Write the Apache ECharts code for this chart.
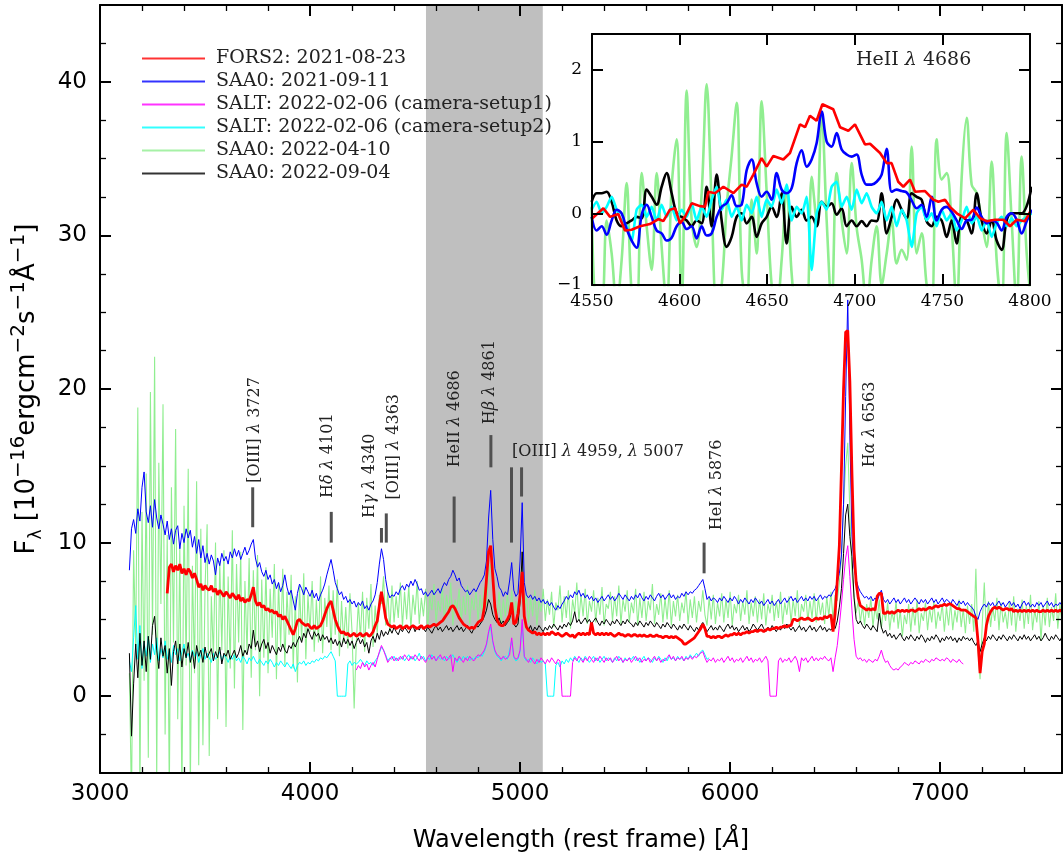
<!DOCTYPE html>
<html>
<head>
<meta charset="utf-8">
<title>Optical spectra, HeII 4686 window</title>
<script src="https://cdn.jsdelivr.net/npm/echarts@6/dist/echarts.min.js"></script>
<style>
  html, body { margin: 0; padding: 0; background: #fff; }
  #chart { width: 1063px; height: 855px; }
</style>
</head>
<body>
<div id="chart"></div>
<script>
// ---------------------------------------------------------------------------
// Spectra: flux in 1e-16 erg cm^-2 s^-1 A^-1 on a regular wavelength grid.
// ---------------------------------------------------------------------------
const GRID_STEP = 10;          // Angstrom per sample
const SAAO_START = 3140;       // first wavelength of the SAAO / SALT-2 spectra
const FORS2_START = 3320;      // first wavelength of the FORS2 spectrum
const SALT1_START = 4220;      // first wavelength of SALT camera-setup1

// FORS2: 2021-08-23
const fors2Flux = [
  6.7, 8.4, 8.6, 8.1, 8.5, 8.2, 8.6, 8.0, 8.3, 7.9,
  8.3, 8.1, 7.7, 8.0, 7.6, 7.1, 7.3, 6.9, 7.2, 7.0,
  6.9, 7.2, 6.8, 7.0, 6.6, 6.9, 6.7, 6.5, 6.8, 6.6,
  6.4, 6.7, 6.5, 6.3, 6.6, 6.2, 6.4, 6.1, 6.3, 6.2,
  6.6, 7.1, 6.2, 5.9, 6.1, 5.8, 5.9, 5.6, 5.7, 5.5,
  5.6, 5.4, 5.5, 5.2, 5.3, 5.0, 5.2, 4.9, 4.6, 4.3,
  4.0, 4.4, 4.9, 5.0, 4.8, 4.7, 4.6, 4.7, 4.5, 4.4,
  4.6, 4.4, 4.5, 4.6, 4.9, 5.3, 5.7, 6.0, 6.2, 5.6,
  5.0, 4.6, 4.3, 4.1, 4.2, 4.0, 4.1, 3.9, 4.0, 4.1,
  3.9, 4.0, 4.1, 3.9, 4.0, 4.1, 3.9, 4.0, 4.2, 4.6,
  4.9, 5.9, 6.8, 6.0, 5.1, 4.7, 4.6, 4.5, 4.6, 4.4,
  4.5, 4.6, 4.4, 4.5, 4.6, 4.4, 4.5, 4.6, 4.5, 4.4,
  4.5, 4.6, 4.4, 4.5, 4.6, 4.5, 4.6, 4.7, 4.6, 4.7,
  4.8, 4.9, 5.1, 5.3, 5.5, 5.8, 5.9, 5.7, 5.4, 5.1,
  4.9, 4.7, 4.6, 4.5, 4.4, 4.5, 4.4, 4.6, 4.8, 4.9,
  5.0, 5.8, 7.6, 9.4, 9.8, 7.8, 5.8, 5.0, 4.7, 4.6,
  4.6, 4.8, 5.0, 5.3, 6.1, 4.7, 4.8, 5.4, 6.6, 8.1,
  5.2, 4.5, 4.3, 4.2, 4.1, 4.2, 4.0, 4.1, 4.0, 4.1,
  4.0, 4.1, 4.0, 4.2, 4.1, 4.0, 4.1, 4.0, 3.9, 4.0,
  4.1, 4.0, 3.9, 4.0, 3.8, 4.0, 4.1, 4.0, 4.1, 4.0,
  4.1, 4.0, 4.8, 4.1, 4.0, 4.1, 4.0, 4.1, 4.0, 4.1,
  4.0, 4.1, 4.0, 3.9, 4.0, 4.1, 4.0, 4.0, 3.9, 4.0,
  4.0, 3.9, 4.0, 4.0, 3.9, 4.0, 3.9, 4.0, 3.9, 3.9,
  4.0, 3.9, 3.9, 4.0, 3.9, 3.9, 3.8, 3.9, 3.9, 3.8,
  3.9, 3.8, 3.9, 3.8, 3.7, 3.6, 3.4, 3.4, 3.5, 3.6,
  3.7, 3.8, 4.0, 4.2, 4.4, 4.7, 4.4, 3.9, 3.9, 3.8,
  3.9, 3.8, 3.9, 3.9, 3.8, 3.9, 4.0, 3.9, 4.0, 4.0,
  4.1, 4.0, 4.1, 4.0, 4.1, 4.1, 4.2, 4.1, 4.2, 4.2,
  4.3, 4.2, 4.3, 4.3, 4.2, 4.3, 4.4, 4.3, 4.4, 4.4,
  4.5, 4.4, 4.5, 4.5, 4.6, 4.5, 4.6, 4.6, 5.0, 5.0,
  4.9, 5.0, 5.1, 5.0, 5.0, 5.1, 5.0, 4.9, 5.0, 5.1,
  5.0, 5.1, 5.0, 5.2, 5.1, 5.2, 5.3, 4.2, 5.4, 7.5,
  9.8, 14.8, 20.0, 23.7, 23.8, 20.5, 14.5, 9.5, 7.4, 6.4,
  5.9, 5.8, 5.7, 5.6, 5.7, 5.6, 5.7, 5.6, 6.5, 6.7,
  6.7, 5.4, 5.4, 5.5, 5.4, 5.5, 5.4, 5.5, 5.6, 5.5,
  5.6, 5.5, 5.6, 5.5, 5.6, 5.6, 5.5, 5.6, 5.7, 5.6,
  5.7, 5.6, 5.7, 5.8, 5.7, 5.8, 5.9, 5.8, 5.9, 5.9,
  6.0, 5.9, 6.0, 6.0, 5.9, 5.8, 5.7, 5.7, 5.6, 5.6,
  5.6, 5.5, 5.4, 5.3, 5.2, 5.1, 3.6, 1.5, 2.9, 3.4,
  4.6, 5.2, 5.5, 5.7, 5.8, 5.7, 5.8, 5.7, 5.6, 5.7,
  5.7, 5.6, 5.7, 5.5, 5.6, 5.5, 5.6, 5.5, 5.6, 5.5,
  5.6, 5.5, 5.6, 5.5, 5.6, 5.5, 5.5, 5.6, 5.5, 5.6,
  5.5, 5.6, 5.5, 5.6, 5.5, 5.6, 5.5
];

// SAAO: 2021-09-11
const saao210911Flux = [
  8.2, 10.9, 11.5, 10.6, 12.2, 11.4, 13.6, 14.6, 12.0, 11.3,
  12.4, 11.0, 12.8, 11.6, 10.9, 11.8, 11.2, 10.5, 11.4, 10.2,
  10.9, 9.9, 10.8, 11.1, 9.6, 10.6, 10.0, 10.9, 10.3, 10.8,
  9.7, 10.4, 9.3, 10.2, 9.0, 9.8, 8.7, 9.3, 8.6, 9.2,
  8.8, 7.9, 9.0, 8.5, 9.3, 8.8, 9.1, 8.6, 9.4, 9.0,
  9.6, 9.1, 9.5, 8.9, 9.3, 9.7, 9.2, 9.5, 9.9, 10.2,
  9.0, 8.4, 8.7, 8.1, 7.8, 8.2, 7.6, 7.9, 7.3, 7.6,
  7.0, 7.4, 6.8, 7.2, 7.9, 7.1, 6.6, 6.9, 6.2, 5.6,
  6.7, 7.3, 7.0, 6.6, 7.1, 6.8, 6.5, 6.9, 6.4, 6.7,
  6.2, 6.6, 6.9, 7.3, 7.9, 8.4, 8.9, 8.2, 7.4, 7.0,
  6.6, 6.8, 6.3, 6.5, 6.1, 6.3, 6.0, 6.2, 5.8, 6.1,
  5.9, 6.2, 5.7, 5.9, 5.6, 6.0, 6.2, 6.6, 7.4, 8.6,
  9.6, 8.9, 7.6, 6.8, 6.4, 6.6, 6.5, 6.8, 6.6, 7.0,
  7.2, 6.9, 7.3, 7.1, 7.5, 7.2, 7.6, 7.3, 6.9, 7.0,
  6.6, 6.8, 6.5, 6.7, 6.9, 6.6, 6.8, 7.0, 6.7, 7.1,
  7.4, 7.2, 7.6, 7.8, 8.2, 7.9, 7.5, 7.7, 7.2, 7.0,
  6.8, 6.9, 6.6, 6.8, 7.0, 6.8, 7.1, 7.4, 7.6, 7.9,
  8.8, 11.6, 13.4, 10.2, 8.3, 7.8, 7.1, 6.9, 6.5, 6.8,
  6.6, 7.5, 8.7, 6.9, 6.5, 6.7, 8.8, 12.6, 7.4, 6.6,
  6.4, 6.6, 6.3, 6.5, 6.2, 6.4, 6.1, 6.3, 6.0, 6.2,
  5.9, 6.1, 5.8, 5.6, 5.9, 5.7, 6.0, 6.2, 6.5, 6.3,
  6.6, 6.4, 6.8, 6.6, 6.9, 6.5, 6.7, 6.4, 6.6, 6.3,
  6.5, 6.2, 6.4, 6.1, 6.3, 6.5, 6.2, 6.4, 6.6, 6.3,
  6.5, 6.2, 6.4, 6.7, 6.5, 6.3, 6.6, 6.4, 6.2, 6.5,
  6.3, 6.6, 6.4, 6.7, 6.4, 6.2, 6.5, 6.3, 6.6, 6.4,
  6.2, 6.5, 6.7, 6.4, 6.6, 6.3, 6.5, 6.7, 6.4, 6.6,
  6.3, 6.5, 6.4, 6.7, 6.5, 6.8, 6.6, 6.8, 6.7, 6.9,
  7.0, 7.2, 7.4, 7.6, 7.0, 6.3, 6.5, 6.2, 6.4, 6.3,
  6.1, 6.4, 6.2, 6.5, 6.3, 6.1, 6.4, 6.2, 6.5, 6.3,
  6.0, 6.3, 6.1, 6.4, 6.2, 6.0, 6.3, 6.1, 6.4, 6.2,
  6.0, 6.2, 5.9, 6.1, 6.3, 6.0, 6.2, 5.9, 6.1, 6.3,
  6.0, 6.2, 6.4, 6.1, 6.3, 6.5, 6.2, 6.4, 6.1, 6.3,
  6.5, 6.2, 6.4, 6.2, 6.5, 6.3, 6.5, 6.2, 6.4, 6.6,
  6.3, 6.5, 6.4, 6.6, 6.5, 6.8, 7.0, 7.4, 8.0, 9.2,
  12.5, 19.5, 25.8, 17.0, 10.5, 8.4, 7.6, 7.1, 6.8, 6.6,
  6.4, 6.5, 6.3, 6.5, 6.2, 6.4, 6.2, 6.6, 6.9, 6.3,
  6.1, 6.3, 6.0, 6.2, 6.4, 6.1, 6.3, 6.0, 6.2, 6.4,
  6.1, 6.3, 6.0, 6.2, 6.4, 6.2, 6.0, 6.3, 6.1, 6.3,
  6.0, 6.2, 6.4, 6.1, 6.3, 6.0, 6.2, 6.4, 6.1, 6.3,
  6.2, 6.0, 6.3, 6.1, 5.9, 6.2, 6.0, 6.2, 5.9, 6.1,
  5.9, 5.8, 5.6, 5.2, 5.0, 5.5, 5.8, 6.0, 5.8, 6.1,
  5.9, 6.1, 5.8, 6.0, 6.2, 5.9, 6.1, 5.8, 6.0, 6.2,
  5.9, 6.1, 5.8, 6.0, 5.7, 6.0, 6.2, 5.9, 6.1, 5.8,
  6.0, 5.8, 6.1, 5.9, 6.1, 5.8, 6.0, 6.2, 5.9, 6.1,
  5.8, 6.0, 5.9, 6.1, 5.9
];

// SALT: 2022-02-06 (camera-setup1)
const saltSetup1Flux = [
  1.7, 2.0, 1.8, 2.2, 1.9, 2.1, 1.7, 2.0, 2.2, 1.9,
  2.4, 2.9, 3.3, 3.0, 2.6, 2.2, 2.4, 2.6, 2.3, 2.5,
  2.3, 2.6, 2.4, 2.7, 2.5, 2.3, 2.6, 2.4, 2.7, 2.5,
  2.3, 2.6, 2.4, 2.2, 2.5, 2.7, 2.4, 2.6, 2.3, 2.5,
  2.7, 2.4, 2.6, 2.3, 2.5, 2.7, 1.6, 2.5, 2.3, 2.6,
  2.4, 2.2, 2.5, 2.3, 2.6, 2.4, 2.3, 2.5, 2.7, 2.6,
  2.8, 3.0, 3.4, 4.2, 4.7, 3.6, 3.0, 2.7, 2.6, 2.4,
  2.6, 2.4, 2.5, 2.7, 3.8, 2.6, 2.4, 2.5, 3.0, 5.0,
  2.6, 2.4, 2.2, 2.5, 2.3, 2.1, 2.4, 2.2, 2.5, 2.3,
  2.1, 2.4, 2.2, 2.5, 2.3, 2.1, 2.4, 2.3, 0, 0,
  0, 0, 0, 2.2, 2.5, 2.3, 2.6, 2.4, 2.2, 2.5,
  2.3, 2.6, 2.4, 2.2, 2.5, 2.3, 2.6, 2.4, 2.2, 2.5,
  2.3, 2.5, 2.2, 2.4, 2.6, 2.3, 2.5, 2.2, 2.4, 2.3,
  2.5, 2.2, 2.4, 2.6, 2.3, 2.5, 2.2, 2.4, 2.3, 2.5,
  2.2, 2.4, 2.6, 2.3, 2.5, 2.2, 2.4, 2.3, 2.5, 2.7,
  2.4, 2.6, 2.3, 2.5, 2.4, 2.6, 2.3, 2.5, 2.4, 2.6,
  2.4, 2.6, 2.5, 2.7, 2.8, 2.9, 2.5, 2.2, 2.4, 2.3,
  2.5, 2.2, 2.4, 2.3, 2.5, 2.2, 2.4, 2.6, 2.3, 2.5,
  2.2, 2.4, 2.3, 2.5, 2.2, 2.4, 2.6, 2.3, 2.5, 2.2,
  2.4, 2.3, 2.5, 2.2, 2.4, 2.6, 2.3, 0, 0, 0,
  0, 2.3, 2.5, 2.2, 2.4, 2.3, 2.5, 2.2, 2.4, 2.6,
  2.3, 1.6, 2.5, 2.3, 2.5, 2.2, 2.4, 2.6, 2.3, 2.5,
  2.3, 2.5, 2.4, 2.6, 2.4, 2.3, 2.5, 1.6, 2.5, 3.3,
  4.6, 6.0, 7.6, 9.0, 9.8, 7.8, 5.6, 3.7, 2.6, 2.4,
  2.5, 2.3, 2.4, 2.2, 2.4, 2.3, 2.2, 2.4, 2.3, 2.6,
  3.0, 2.5, 2.2, 2.3, 2.0, 1.8, 1.7, 1.8, 1.7, 1.9,
  2.0, 2.2, 2.1, 2.0, 2.2, 2.1, 2.3, 2.2, 2.1, 2.3,
  2.2, 2.4, 2.3, 2.2, 2.4, 2.3, 2.5, 2.4, 2.3, 2.4,
  2.3, 2.5, 2.4, 2.2, 2.4, 2.3, 2.2, 2.4, 2.2, 2.1
];

// SALT: 2022-02-06 (camera-setup2)
const saltSetup2Flux = [
  2.3, 1.6, 3.8, 5.9, 2.4, 4.6, 1.8, 3.5, 2.6, 3.9,
  2.2, 3.4, 2.7, 3.8, 2.3, 3.1, 2.5, 3.6, 2.4, 3.0,
  2.2, 3.3, 2.7, 3.1, 2.3, 2.9, 3.4, 2.5, 2.8, 2.3,
  3.0, 2.6, 2.9, 2.2, 2.7, 3.1, 2.4, 2.8, 2.5, 2.2,
  2.8, 2.4, 2.6, 2.9, 2.3, 2.7, 2.5, 2.2, 2.6, 2.4,
  2.7, 2.3, 2.5, 2.2, 2.6, 2.4, 2.1, 2.5, 2.3, 2.6,
  2.3, 2.1, 2.4, 2.2, 2.0, 2.3, 2.1, 2.4, 2.2, 1.9,
  2.2, 2.0, 2.3, 2.1, 1.9, 2.2, 2.0, 1.8, 2.1, 1.6,
  2.0, 2.2, 2.1, 2.3, 2.0, 2.2, 2.1, 2.3, 2.2, 2.4,
  2.3, 2.5, 2.4, 2.6, 2.5, 2.7, 2.9, 2.6, 2.3, 0,
  0, 0, 0, 0, 2.1, 2.3, 2.0, 2.2, 2.1, 2.2,
  2.4, 2.2, 2.0, 2.3, 2.1, 2.2, 2.0, 2.3, 2.5, 2.8,
  3.2, 3.0, 2.7, 2.3, 2.5, 2.4, 2.6, 2.3, 2.5, 2.4,
  2.6, 2.3, 2.5, 2.7, 2.4, 2.6, 2.3, 2.5, 2.8, 2.4,
  2.6, 2.3, 2.5, 2.4, 2.7, 2.5, 2.3, 2.6, 2.4, 2.5,
  2.3, 2.6, 2.4, 2.5, 2.7, 2.4, 2.2, 2.5, 2.3, 2.6,
  2.4, 2.6, 2.3, 2.5, 2.4, 2.6, 2.5, 2.7, 2.6, 2.9,
  3.3, 4.1, 4.5, 3.5, 2.9, 2.6, 2.5, 2.3, 2.5, 2.6,
  2.4, 3.0, 3.6, 2.5, 2.3, 2.4, 2.9, 4.8, 2.5, 2.3,
  2.4, 2.2, 2.5, 2.3, 2.1, 2.4, 2.2, 2.3, 2.1, 0,
  0, 0, 0, 2.0, 2.2, 1.9, 2.3, 2.1, 2.4, 2.2,
  2.5, 2.3, 2.6, 2.4, 2.2, 2.5, 2.3, 2.6, 2.4, 2.2,
  2.4, 2.6, 2.3, 2.5, 2.2, 2.4, 2.6, 2.3, 2.5, 2.4,
  2.2, 2.5, 2.3, 2.6, 2.4, 2.2, 2.5, 2.3, 2.5, 2.4,
  2.6, 2.3, 2.5, 2.2, 2.4, 2.6, 2.3, 2.5, 2.4, 2.2,
  2.5, 2.3, 2.6, 2.4, 2.2, 2.5, 2.3, 2.6, 2.4, 2.5,
  2.3, 2.6, 2.4, 2.5, 2.3, 2.6, 2.4, 2.7, 2.5, 2.6,
  2.8, 2.6, 2.9, 3.0, 2.7, 2.4, 2.5
];

// SAAO: 2022-04-10
const saao220410Flux = [
  1.5, -7.0, 9.5, 3.2, 18.8, -6.5, 12.0, 1.0, 14.5, -4.0,
  19.8, 4.0, 22.1, -5.5, 15.2, 6.0, 19.0, -2.5, 10.5, -6.5,
  13.6, 3.5, 17.4, -1.5, 9.8, -6.8, 12.4, 2.0, 14.8, -6.2,
  8.5, 1.5, 14.0, -4.5, 10.9, -3.2, 7.0, 11.2, -3.9, 6.5,
  2.5, 10.0, -1.5, 8.8, 3.0, 9.5, -2.0, 7.8, 1.8, 10.8,
  0.5, 8.6, 3.5, 9.4, -2.2, 7.5, 2.8, 9.0, 1.2, 8.2,
  3.0, 9.2, 0.0, 7.6, 2.5, 8.4, 1.5, 7.0, 3.8, 8.6,
  1.1, 7.4, 3.2, 8.3, 2.0, 6.8, 4.0, 7.9, 1.8, 6.5,
  0.9, 7.2, 3.6, 8.0, 2.4, 6.6, 4.2, 7.5, 2.9, 6.3,
  3.5, 7.8, 2.8, 6.4, 4.5, 7.2, 3.0, 6.9, 4.0, 7.6,
  2.6, 6.2, 3.5, 5.8, 3.1, 6.7, 4.2, -0.8, 3.4, 6.1,
  3.8, 6.8, 2.9, 6.4, 4.4, 7.3, 3.2, 5.9, 4.1, 6.6,
  6.0, 7.8, 4.6, 6.9, 4.2, 7.2, 4.8, 6.5, 5.1, 7.4,
  4.5, 6.8, 5.0, 7.2, 4.4, 6.6, 5.3, 7.5, 4.7, 6.4,
  5.2, 7.0, 4.5, 6.5, 5.6, 7.3, 4.8, 6.2, 5.5, 7.1,
  4.9, 6.6, 5.4, 7.4, 4.6, 6.3, 5.7, 7.0, 4.8, 6.5,
  5.3, 7.2, 4.7, 6.4, 5.6, 6.9, 4.9, 6.6, 5.4, 7.1,
  5.9, 8.0, 8.6, 7.2, 6.0, 5.1, 6.8, 4.7, 6.3, 5.2,
  6.7, 4.8, 6.9, 5.3, 6.2, 4.9, 7.0, 8.4, 5.5, 6.6,
  4.8, 6.4, 5.2, 6.9, 4.6, 6.2, 5.5, 7.0, 4.9, 6.3,
  5.3, 6.8, 4.5, 6.1, 5.6, 7.2, 4.8, 6.5, 5.1, 6.9,
  4.4, 6.3, 5.4, 7.4, 4.9, 6.6, 5.2, 7.0, 4.7, 6.2,
  5.5, 6.9, 4.8, 6.4, 5.3, 7.1, 4.6, 6.0, 5.7, 6.8,
  4.9, 6.5, 5.2, 7.2, 4.7, 6.3, 5.5, 6.9, 4.8, 6.1,
  5.4, 7.0, 4.6, 6.4, 5.1, 6.8, 4.9, 6.2, 5.6, 7.3,
  4.7, 6.0, 5.3, 6.7, 4.8, 6.4, 5.0, 6.9, 4.6, 6.2,
  5.2, 6.6, 4.9, 6.1, 5.4, 6.8, 4.7, 6.3, 5.1, 6.5,
  4.8, 6.2, 5.5, 6.9, 5.3, 4.6, 6.4, 5.0, 6.6, 4.7,
  6.1, 5.2, 6.7, 4.8, 6.3, 5.1, 6.8, 4.6, 6.0, 5.4,
  6.6, 4.9, 6.2, 5.3, 6.9, 4.7, 6.1, 5.2, 6.5, 4.8,
  6.3, 5.0, 6.7, 4.6, 6.0, 5.4, 6.6, 4.9, 6.2, 5.1,
  6.8, 4.7, 6.1, 5.3, 6.5, 4.8, 6.3, 5.2, 6.9, 4.6,
  6.0, 5.5, 6.6, 4.9, 6.2, 5.1, 6.7, 4.8, 6.4, 5.3,
  6.1, 4.7, 6.5, 5.2, 6.8, 5.0, 6.6, 6.2, 7.4, 9.0,
  12.5, 15.0, 16.5, 12.0, 8.0, 6.6, 5.4, 6.2, 4.8, 5.9,
  4.6, 6.0, 5.1, 6.4, 4.5, 5.8, 5.0, 6.3, 4.4, 5.7,
  4.9, 6.1, 4.3, 5.5, 4.8, 6.2, 4.4, 5.6, 3.9, 5.3,
  4.7, 6.0, 4.2, 5.8, 4.6, 6.3, 4.1, 5.4, 4.9, 6.1,
  4.3, 5.7, 4.8, 6.2, 4.4, 5.5, 4.9, 6.0, 4.2, 5.8,
  4.6, 6.1, 4.3, 5.6, 4.8, 6.3, 4.5, 5.7, 4.1, 5.9,
  4.7, 6.0, 4.2, 8.3, 3.0, 1.1, 4.6, 7.4, 4.1, 6.2,
  4.5, 5.8, 4.9, 6.4, 4.3, 6.1, 4.8, 5.5, 4.4, 6.2,
  4.6, 6.5, 4.2, 5.7, 4.9, 6.3, 4.4, 5.9, 4.7, 6.6,
  4.3, 5.6, 4.8, 6.2, 3.6, 5.9, 4.6, 6.4, 4.5, 5.8,
  4.9, 6.7, 4.4, 6.0, 4.7
];

// SAAO: 2022-09-04
const saao220904Flux = [
  2.8, -2.6, 0.8, 3.4, 1.2, 4.1, 2.0, 3.6, 1.6, 3.9,
  2.4, 4.6, 5.2, 3.0, 1.8, 3.8, 2.6, 3.3, 1.5, 3.1,
  0.7, 2.9, 3.6, 2.1, 3.4, 1.9, 3.1, 2.5, 3.5, 2.2,
  2.9, 1.8, 3.3, 2.6, 3.0, 2.2, 3.2, 2.5, 2.8, 3.1,
  2.3, 2.9, 2.5, 3.2, 2.1, 2.8, 2.6, 3.0, 2.4, 2.7,
  3.0, 2.5, 2.8, 3.3, 2.6, 3.0, 2.7, 3.4, 3.1, 4.3,
  3.2, 3.6, 2.9, 3.4, 3.7, 3.1, 3.5, 2.8, 3.3, 3.0,
  2.7, 3.2, 2.9, 3.4, 3.0, 2.8, 3.3, 3.1, 3.5, 3.2,
  3.6, 3.9, 3.5, 4.1, 3.8, 4.4, 4.0, 3.7, 4.2, 3.9,
  4.1, 3.6, 4.0, 3.7, 3.9, 3.5, 3.8, 3.4, 3.7, 3.3,
  3.6, 3.2, 3.8, 3.4, 3.7, 3.3, 3.6, 3.1, 3.5, 3.8,
  3.4, 3.7, 3.2, 3.5, 2.8, 3.6, 3.9, 3.5, 4.1, 3.7,
  4.3, 3.9, 4.2, 4.0, 4.4, 4.1, 4.5, 4.2, 4.0, 4.4,
  4.2, 4.5, 4.3, 4.1, 4.4, 4.6, 4.2, 4.5, 4.3, 4.6,
  4.4, 4.2, 4.5, 4.3, 4.1, 4.4, 4.6, 4.3, 4.5, 4.2,
  4.4, 4.6, 4.3, 4.5, 4.2, 4.4, 4.6, 4.3, 4.5, 4.2,
  4.4, 4.6, 4.3, 4.1, 4.4, 4.6, 4.5, 4.7, 4.9, 5.2,
  5.6, 6.3, 6.0, 5.3, 5.0, 4.8, 5.1, 4.7, 4.9, 4.6,
  4.8, 5.0, 5.6, 4.7, 4.5, 4.7, 6.2, 9.4, 5.2, 4.5,
  4.3, 4.6, 4.2, 4.5, 4.3, 4.6, 4.4, 4.2, 4.5, 4.3,
  4.6, 4.4, 4.7, 4.5, 4.3, 4.6, 4.4, 4.7, 4.5, 4.8,
  4.6, 4.9, 5.5, 4.8, 5.0, 4.7, 4.9, 5.1, 4.8, 5.0,
  4.7, 4.9, 5.1, 4.8, 4.6, 4.9, 4.7, 5.0, 4.8, 4.6,
  4.9, 4.7, 5.0, 4.8, 4.6, 4.9, 4.7, 5.0, 4.8, 4.7,
  4.5, 4.8, 4.6, 4.9, 4.7, 4.5, 4.8, 4.6, 4.9, 4.7,
  4.5, 4.8, 4.6, 4.4, 4.7, 4.5, 4.8, 4.6, 4.4, 4.7,
  4.5, 4.3, 4.6, 4.4, 4.7, 4.5, 4.3, 4.6, 4.4, 4.2,
  4.5, 4.3, 4.6, 4.8, 4.5, 4.2, 4.4, 4.6, 4.3, 4.5,
  4.3, 4.6, 4.4, 4.2, 4.5, 4.7, 4.4, 4.6, 4.3, 4.5,
  4.2, 4.4, 4.6, 4.3, 4.5, 4.2, 4.4, 4.7, 4.5, 4.3,
  4.5, 4.7, 4.4, 4.2, 4.5, 4.3, 4.6, 4.4, 4.2, 4.5,
  4.3, 4.6, 4.4, 4.7, 4.5, 4.3, 4.5, 4.2, 4.4, 4.6,
  4.3, 4.5, 4.2, 4.4, 4.6, 4.3, 4.5, 4.2, 4.4, 4.6,
  4.3, 4.5, 4.2, 4.4, 4.3, 4.5, 4.4, 4.9, 5.8, 7.0,
  9.3, 11.8, 12.5, 10.4, 9.1, 6.4, 5.0, 4.7, 4.9, 4.6,
  4.4, 4.7, 4.5, 4.3, 4.6, 4.4, 4.2, 5.4, 4.5, 4.1,
  4.3, 3.9, 4.1, 3.8, 4.0, 3.7, 3.9, 4.1, 3.8, 3.6,
  3.9, 3.7, 4.0, 3.8, 3.6, 3.9, 3.7, 4.0, 3.8, 3.5,
  3.8, 3.6, 3.9, 3.7, 4.0, 3.8, 3.5, 3.8, 3.6, 3.9,
  3.7, 3.9, 3.6, 3.8, 3.5, 3.8, 3.6, 3.9, 3.7, 3.8,
  3.6, 3.8, 3.5, 3.3, 3.6, 2.9, 3.4, 3.8, 3.6, 3.9,
  3.7, 4.0, 3.8, 3.6, 3.9, 3.7, 4.0, 3.8, 3.6, 3.9,
  3.7, 4.0, 3.8, 3.6, 3.9, 3.7, 4.0, 3.7, 3.9, 3.6,
  3.8, 4.0, 3.7, 3.9, 3.6, 3.8, 4.1, 3.8, 3.6, 3.9,
  3.7, 4.0, 3.8, 3.6, 3.9
];

// ---------------------------------------------------------------------------
// HeII 4686 window: continuum-subtracted flux.
// ---------------------------------------------------------------------------
const WIN_START = 4549.8;      // regular grid used by the SAAO / SALT windows
const WIN_STEP = 2.854;

const winFors2Wave = [
  4550.2, 4556.5, 4560.3, 4565.0, 4568.8, 4572.6, 4577.4, 4583.1, 4587.9, 4590.7,
  4594.5, 4597.4, 4600.2, 4603.1, 4606.9, 4611.6, 4614.5, 4616.4, 4620.2, 4625.0,
  4630.7, 4635.4, 4638.3, 4642.1, 4646.8, 4649.7, 4653.5, 4659.2, 4663.0, 4668.7,
  4671.6, 4674.4, 4678.2, 4681.5, 4687.7, 4691.6, 4696.3, 4700.1, 4705.8, 4708.7,
  4714.4, 4718.2, 4721.0, 4724.8, 4727.7, 4731.5, 4734.4, 4740.1, 4744.8, 4747.7,
  4751.5, 4754.3, 4758.2, 4762.9, 4767.7, 4771.5, 4775.3, 4780.0, 4784.8, 4788.6,
  4792.4, 4797.1, 4800.0
];
const winFors2Flux = [
  -0.07, 0.07, -0.05, -0.01, -0.24, -0.23, -0.18, -0.15, -0.08, -0.11,
  0.05, 0.07, -0.14, -0.05, 0.14, 0.10, 0.09, 0.30, 0.28, 0.37,
  0.28, 0.40, 0.37, 0.54, 0.77, 0.65, 0.80, 0.75, 0.84, 1.24,
  1.20, 1.36, 1.29, 1.52, 1.45, 1.20, 1.15, 1.24, 0.96, 0.97,
  0.84, 0.70, 0.70, 0.44, 0.37, 0.47, 0.30, 0.31, 0.19, 0.16,
  0.19, 0.09, 0.00, -0.07, 0.05, -0.07, -0.11, -0.09, -0.09, -0.18,
  -0.09, -0.11, 0.02
];
const winSaao210911Flux = [
  -0.05, -0.24, -0.18, -0.30, -0.10, 0.05, 0.00, -0.22, -0.38, -0.48,
  -0.02, 0.12, -0.05, -0.24, -0.28, -0.38, -0.34, -0.18, -0.12, -0.22,
  -0.18, -0.35, -0.18, -0.31, -0.28, -0.05, 0.09, 0.14, 0.25, 0.10,
  0.12, 0.60, 0.75, 0.42, 0.23, 0.30, 0.19, 0.56, 0.33, 0.28,
  0.35, 0.70, 0.88, 0.65, 0.75, 0.98, 1.42, 1.00, 0.93, 1.12,
  0.89, 0.82, 0.79, 0.82, 0.54, 0.40, 0.40, 0.44, 0.54, 0.90,
  0.30, 0.33, 0.31, 0.29, 0.18, 0.07, 0.12, -0.05, 0.23, -0.10,
  0.05, 0.09, 0.02, -0.10, -0.22, -0.10, -0.09, 0.08, -0.05, -0.14,
  -0.10, -0.13, -0.24, -0.05, 0.00, -0.09, -0.28, -0.11, 0.05
];
const winSaltSetup2Flux = [
  0.05, 0.16, 0.00, 0.09, 0.23, 0.05, -0.10, -0.18, -0.38, 0.05,
  0.12, -0.05, 0.09, -0.10, 0.12, -0.05, 0.09, -0.10, 0.05, -0.05,
  0.14, -0.10, 0.09, -0.05, 0.19, 0.37, 0.05, 0.19, -0.05, 0.09,
  -0.10, 0.12, 0.00, 0.23, -0.05, 0.19, 0.09, 0.33, 0.14, 0.40,
  -0.10, 0.09, 0.00, 0.23, -0.79, 0.00, 0.16, 0.05, 0.37, 0.44,
  0.09, 0.23, 0.05, 0.33, 0.14, 0.28, 0.09, 0.00, 0.16, -0.10,
  0.09, -0.18, 0.05, -0.10, -0.47, 0.00, 0.09, -0.10, 0.00, -0.18,
  0.05, -0.10, 0.00, -0.24, -0.10, 0.09, -0.14, -0.05, -0.24, -0.10,
  -0.33, -0.14, -0.05, -0.18, -0.07, -0.18, -0.10, -0.05, 0.00
];
const winSaao220410Flux = [
  0.09, -1.3, -1.3, -0.10, -0.56, -1.3, -0.65, 0.42, -1.1, -1.3,
  0.56, -0.18, -0.79, 0.56, -0.47, -1.3, 0.37, 1.03, -1.3, 1.71,
  -0.10, -0.47, 0.28, 1.80, 0.14, -1.3, -1.01, 0.09, 0.80, 1.54,
  -0.79, -1.3, 0.19, -0.56, 1.56, 0.30, -1.0, -1.3, -0.65, 0.37,
  -0.84, -1.3, -1.3, -1.3, 0.51, -0.10, 1.40, -0.10, -1.3, 0.56,
  -0.10, -0.56, 0.70, -0.20, -0.65, -1.3, -0.65, -0.18, -1.0, -0.56,
  -0.10, -0.70, -0.51, -0.65, 0.93, -0.56, -0.28, -1.0, -1.3, 1.03,
  0.47, 0.56, -0.18, -1.3, 0.50, 1.33, 0.40, 0.28, -0.10, -0.47,
  0.72, -0.65, -1.3, 1.12, -0.10, -1.3, 0.79, -0.56, -1.3
];
const winSaao220904Flux = [
  0.16, 0.28, 0.28, 0.30, 0.16, -0.10, -0.18, -0.14, -0.10, -0.05,
  -0.07, 0.33, 0.23, 0.12, 0.37, 0.56, 0.28, 0.00, -0.05, -0.10,
  -0.18, -0.10, -0.14, 0.37, -0.18, 0.54, -0.10, -0.47, -0.33, -0.05,
  0.00, -0.14, -0.05, -0.33, -0.14, -0.05, 0.09, -0.05, 0.28, -0.42,
  0.09, -0.05, 0.05, -0.10, -0.05, -0.18, 0.16, 0.09, 0.14, -0.02,
  0.07, -0.18, -0.10, -0.18, -0.11, -0.18, -0.10, -0.11, 0.28, -0.28,
  -0.05, 0.19, 0.05, -0.07, 0.28, 0.23, 0.19, -0.11, -0.18, -0.05,
  -0.10, -0.33, -0.10, -0.42, -0.05, -0.10, -0.28, 0.28, -0.10, -0.28,
  -0.10, -0.38, -0.51, -0.10, 0.00, 0.00, 0.00, 0.10, 0.37
];

// ---------------------------------------------------------------------------
// Axis ranges and tick values
// ---------------------------------------------------------------------------
const waveRange = [3000, 7580];
const fluxRange = [-5, 45];
const waveMajorTicks = [3000, 4000, 5000, 6000, 7000];
const waveMinorTicks = [3200, 3400, 3600, 3800, 4200, 4400, 4600, 4800, 5200, 5400,
                        5600, 5800, 6200, 6400, 6600, 6800, 7200, 7400];
const fluxMajorTicks = [0, 10, 20, 30, 40];
const fluxMinorTicks = [-2.5, 2.5, 5, 7.5, 12.5, 15, 17.5, 22.5, 25, 27.5,
                        32.5, 35, 37.5, 42.5];
const winWaveRange = [4550, 4800];
const winFluxRange = [-1, 2.5];
const winWaveTicks = [4550, 4600, 4650, 4700, 4750, 4800];
const winFluxTicks = [-1, 0, 1, 2];

// shaded wavelength interval
const shadedBand = [4552, 5108];

// Line identifications: bars in data units, label anchor (bottom of rotated text)
const lineIds = [
  { text: '[OIII] {g|λ} 3727', bars: [[3727, 11.0, 13.6]], label: [3738, 13.9], vertical: true },
  { text: 'H{g|δ} {g|λ} 4101', bars: [[4101, 10.0, 12.0]], label: [4085, 12.9], vertical: true },
  { text: 'H{g|γ} {g|λ} 4340', bars: [[4340, 10.0, 10.95]], label: [4285, 11.6], vertical: true },
  { text: '[OIII] {g|λ} 4363', bars: [[4363, 10.0, 11.9]], label: [4400, 12.8], vertical: true },
  { text: 'HeII {g|λ} 4686', bars: [[4686, 10.0, 13.0]], label: [4690, 14.9], vertical: true },
  { text: 'H{g|β} {g|λ} 4861', bars: [[4861, 14.9, 17.0]], label: [4857, 17.7], vertical: true },
  { text: '[OIII] {g|λ} 4959, {g|λ} 5007', bars: [[4959, 10.0, 14.9], [5007, 13.0, 14.9]], label: [4962, 15.9], vertical: false },
  { text: 'HeI {g|λ} 5876', bars: [[5876, 8.0, 10.0]], label: [5937, 10.8], vertical: true },
  { text: 'H{g|α} {g|λ} 6563', bars: [], label: [6666, 14.9], vertical: true }
];

// ---------------------------------------------------------------------------
function onGrid(start, step, values) {
  return values.map(function (v, i) { return [+(start + i * step).toFixed(2), v]; });
}
function zipPairs(xs, ys) {
  const n = Math.min(xs.length, ys.length);
  const out = [];
  for (let i = 0; i < n; i++) out.push([xs[i], ys[i]]);
  return out;
}

const SERIF = "'DejaVu Serif', serif";
const SANS = "'DejaVu Sans', sans-serif";
const minus = function (v) { return v < 0 ? '\u2212' + Math.abs(v) : String(v); };

function axis(o) {
  const a = {
    type: 'value',
    gridIndex: o.grid,
    min: o.range[0],
    max: o.range[1],
    position: o.position,
    z: 10,
    axisLine: { show: o.line !== false, onZero: false, lineStyle: { color: '#000', width: 2 } },
    axisTick: {
      show: true, inside: true, length: o.tickLen,
      lineStyle: { color: '#000', width: o.tickWidth },
      customValues: o.ticks
    },
    axisLabel: o.labels ? {
      show: true, customValues: o.labels, margin: o.margin,
      fontFamily: o.font, fontSize: o.fontSize, color: '#000',
      formatter: minus
    } : { show: false },
    splitLine: { show: false },
    minorTick: { show: false }
  };
  return Object.assign(a, o.extra || {});
}

const series = [];

// grey shaded interval
series.push({
  type: 'custom',
  name: 'shaded interval',
  xAxisIndex: 0, yAxisIndex: 0,
  z: 1, silent: true,
  data: [[shadedBand[0], shadedBand[1]]],
  renderItem: function (params, api) {
    const a = api.coord([api.value(0), fluxRange[1]]);
    const b = api.coord([api.value(1), fluxRange[0]]);
    return {
      type: 'rect',
      shape: { x: a[0], y: a[1], width: b[0] - a[0], height: b[1] - a[1] },
      style: { fill: '#bfbfbf' }
    };
  }
});

function spectrum(name, data, color, width, z, xi, yi, smooth) {
  return {
    type: 'line', name: name, data: data,
    xAxisIndex: xi, yAxisIndex: yi,
    showSymbol: false, symbol: 'none', smooth: smooth || false,
    clip: true, z: z, silent: true,
    lineStyle: { color: color, width: width },
    itemStyle: { color: color },
    emphasis: { disabled: true }
  };
}

const NAMES = {
  fors2: 'FORS2: 2021-08-23',
  s1: 'SAA0: 2021-09-11',
  salt1: 'SALT: 2022-02-06 (camera-setup1)',
  salt2: 'SALT: 2022-02-06 (camera-setup2)',
  s2: 'SAA0: 2022-04-10',
  s3: 'SAA0: 2022-09-04'
};
const COLORS = {
  fors2: '#ff0000', s1: '#0000ff', salt1: '#ff00ff',
  salt2: '#00ffff', s2: '#90ee90', s3: '#000000'
};

series.push(spectrum(NAMES.s2, onGrid(SAAO_START, GRID_STEP, saao220410Flux), COLORS.s2, 1.1, 2, 0, 0));
series.push(spectrum(NAMES.salt2, onGrid(SAAO_START, GRID_STEP, saltSetup2Flux), COLORS.salt2, 1, 3, 0, 0));
series.push(spectrum(NAMES.salt1, onGrid(SALT1_START, GRID_STEP, saltSetup1Flux), COLORS.salt1, 1, 4, 0, 0));
series.push(spectrum(NAMES.s3, onGrid(SAAO_START, GRID_STEP, saao220904Flux), COLORS.s3, 1, 5, 0, 0));
series.push(spectrum(NAMES.s1, onGrid(SAAO_START, GRID_STEP, saao210911Flux), COLORS.s1, 1, 6, 0, 0));
series.push(spectrum(NAMES.fors2, onGrid(FORS2_START, GRID_STEP, fors2Flux), COLORS.fors2, 2.8, 7, 0, 0));

// HeII 4686 window
series.push(spectrum('window ' + NAMES.s2, onGrid(WIN_START, WIN_STEP, winSaao220410Flux), COLORS.s2, 2.6, 2, 4, 4, 0.35));
series.push(spectrum('window ' + NAMES.s3, onGrid(WIN_START, WIN_STEP, winSaao220904Flux), COLORS.s3, 2.6, 3, 4, 4, 0.35));
series.push(spectrum('window ' + NAMES.salt2, onGrid(WIN_START, WIN_STEP, winSaltSetup2Flux), COLORS.salt2, 2.6, 4, 4, 4, 0.2));
series.push(spectrum('window ' + NAMES.s1, onGrid(WIN_START, WIN_STEP, winSaao210911Flux), COLORS.s1, 2.6, 5, 4, 4, 0.35));
series.push(spectrum('window ' + NAMES.fors2, zipPairs(winFors2Wave, winFors2Flux), COLORS.fors2, 2.6, 6, 4, 4));

// line identifications
const annotRich = {
  g: { fontFamily: SERIF, fontSize: 16, fontStyle: 'italic', fill: '#222' }
};
series.push({
  type: 'custom',
  name: 'line identifications',
  xAxisIndex: 0, yAxisIndex: 0,
  z: 8, silent: true,
  data: lineIds.map(function (m, i) { return [m.label[0], m.label[1], i]; }),
  renderItem: function (params, api) {
    const m = lineIds[params.dataIndex];
    const children = [];
    m.bars.forEach(function (b) {
      const p0 = api.coord([b[0], b[1]]);
      const p1 = api.coord([b[0], b[2]]);
      children.push({
        type: 'line',
        shape: { x1: p0[0], y1: p0[1], x2: p1[0], y2: p1[1] },
        style: { stroke: '#505050', lineWidth: 3 }
      });
    });
    const p = api.coord(m.label);
    children.push({
      type: 'text',
      x: p[0], y: p[1],
      rotation: m.vertical ? Math.PI / 2 : 0,
      style: {
        text: m.text, rich: annotRich,
        fontFamily: SERIF, fontSize: 16, fill: '#222',
        align: 'left', verticalAlign: 'middle'
      }
    });
    return { type: 'group', children: children };
  }
});

const option = {
  animation: false,
  backgroundColor: '#ffffff',
  grid: [
    { left: 100, top: 5, width: 962, height: 768, containLabel: false, outerBoundsMode: 'none' },
    { left: 592, top: 34, width: 438, height: 251, containLabel: false, outerBoundsMode: 'none',
      show: true, backgroundColor: '#ffffff', borderWidth: 0 }
  ],
  xAxis: [
    axis({ grid: 0, range: waveRange, position: 'bottom', ticks: waveMajorTicks,
      tickLen: 11, tickWidth: 2, labels: waveMajorTicks, margin: 10, font: SANS, fontSize: 23,
      extra: {
        name: 'Wavelength (rest frame) [{it|Å}]',
        nameLocation: 'middle', nameGap: 56,
        nameTextStyle: {
          fontFamily: SANS, fontSize: 24, color: '#000',
          rich: { it: { fontFamily: SANS, fontSize: 24, fontStyle: 'italic', color: '#000' } }
        }
      } }),
    axis({ grid: 0, range: waveRange, position: 'bottom', ticks: waveMinorTicks,
      tickLen: 6, tickWidth: 1.3, line: false }),
    axis({ grid: 0, range: waveRange, position: 'top', ticks: waveMajorTicks,
      tickLen: 11, tickWidth: 2 }),
    axis({ grid: 0, range: waveRange, position: 'top', ticks: waveMinorTicks,
      tickLen: 6, tickWidth: 1.3, line: false }),
    axis({ grid: 1, range: winWaveRange, position: 'bottom', ticks: winWaveTicks,
      tickLen: 11, tickWidth: 2, labels: winWaveTicks, margin: 8, font: SERIF, fontSize: 17 }),
    axis({ grid: 1, range: winWaveRange, position: 'top', ticks: winWaveTicks,
      tickLen: 11, tickWidth: 2 })
  ],
  yAxis: [
    axis({ grid: 0, range: fluxRange, position: 'left', ticks: fluxMajorTicks,
      tickLen: 11, tickWidth: 2, labels: fluxMajorTicks, margin: 13, font: SANS, fontSize: 23,
      extra: {
        name: 'F{sub|λ} [10{sup|−16}ergcm{sup|−2}s{sup|−1}Å{sup|−1}]',
        nameLocation: 'middle', nameGap: 55, nameRotate: 90,
        nameTextStyle: {
          fontFamily: SANS, fontSize: 26, color: '#000', lineHeight: 36,
          rich: {
            sub: { fontFamily: SANS, fontSize: 17, color: '#000', verticalAlign: 'bottom', lineHeight: 21 },
            sup: { fontFamily: SANS, fontSize: 20, color: '#000', verticalAlign: 'top', lineHeight: 18 }
          }
        }
      } }),
    axis({ grid: 0, range: fluxRange, position: 'left', ticks: fluxMinorTicks,
      tickLen: 6, tickWidth: 1.3, line: false }),
    axis({ grid: 0, range: fluxRange, position: 'right', ticks: fluxMajorTicks,
      tickLen: 11, tickWidth: 2 }),
    axis({ grid: 0, range: fluxRange, position: 'right', ticks: fluxMinorTicks,
      tickLen: 6, tickWidth: 1.3, line: false }),
    axis({ grid: 1, range: winFluxRange, position: 'left', ticks: winFluxTicks,
      tickLen: 11, tickWidth: 2, labels: winFluxTicks, margin: 10, font: SERIF, fontSize: 17 }),
    axis({ grid: 1, range: winFluxRange, position: 'right', ticks: winFluxTicks,
      tickLen: 11, tickWidth: 2 })
  ],
  legend: {
    orient: 'vertical',
    left: 142, top: 47,
    padding: 0,
    itemGap: 0,
    icon: 'rect',
    itemWidth: 63, itemHeight: 2,
    selectedMode: false,
    data: [NAMES.fors2, NAMES.s1, NAMES.salt1, NAMES.salt2, NAMES.s2, NAMES.s3],
    itemStyle: { opacity: 0.8 },
    textStyle: {
      fontFamily: SERIF, fontSize: 19, color: '#222',
      lineHeight: 23, padding: [0, 0, 0, 6]
    }
  },
  graphic: [{
    type: 'text', left: 856, top: 51, z: 20,
    style: {
      text: 'HeII {g|λ} 4686',
      fontFamily: SERIF, fontSize: 19, fill: '#222',
      rich: { g: { fontFamily: SERIF, fontSize: 19, fontStyle: 'italic', fill: '#222' } }
    }
  }],
  series: series
};

const chart = echarts.init(document.getElementById('chart'), null, { renderer: 'canvas' });
chart.setOption(option);
</script>
</body>
</html>
